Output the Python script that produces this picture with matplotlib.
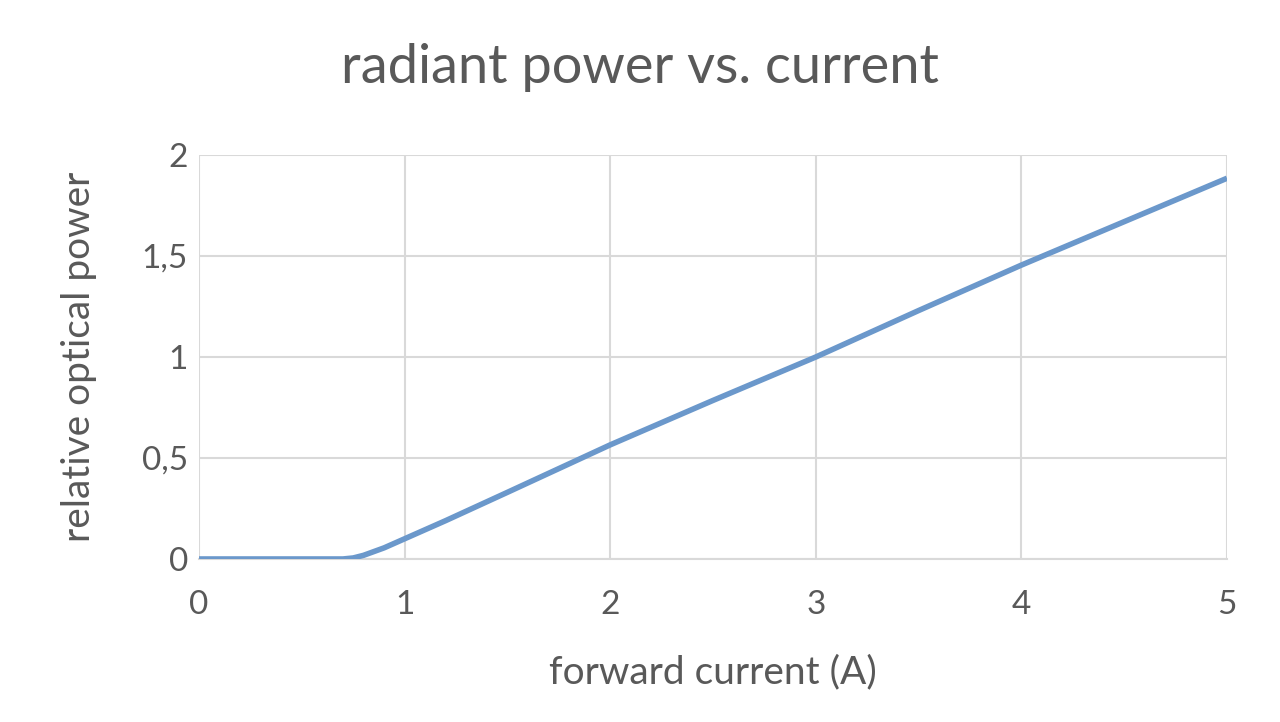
import matplotlib.pyplot as plt

# forward current (A) and relative optical power
current = [0.0, 0.3, 0.6, 0.7, 0.75, 0.8, 0.9, 1.0, 1.2, 1.5, 2.0, 2.5, 3.0, 3.5, 4.0, 4.5, 5.0]
power = [0.0, 0.0, 0.0, 0.0, 0.005, 0.018, 0.055, 0.10, 0.19, 0.33, 0.565, 0.785, 1.0, 1.23, 1.455, 1.67, 1.885]

x_ticks = [0, 1, 2, 3, 4, 5]
y_ticks = [0, 0.5, 1, 1.5, 2]
y_tick_labels = ["0", "0,5", "1", "1,5", "2"]

plt.rcParams["font.family"] = ["Lato", "DejaVu Sans"]
text_color = "#595959"
grid_color = "#D9D9D9"

fig = plt.figure(figsize=(12.8, 7.22), dpi=100)
ax = fig.add_axes([0.1555, 0.2258, 0.8031, 0.5595])

ax.plot(current, power, color="#6B98CB", linewidth=4, solid_capstyle="butt", zorder=3)

ax.set_xlim(0, 5)
ax.set_ylim(0, 2)
ax.set_xticks(x_ticks)
ax.set_yticks(y_ticks)
ax.set_yticklabels(y_tick_labels)
ax.tick_params(length=0, labelsize=24, labelcolor=text_color)
ax.tick_params(axis="x", pad=22)
ax.tick_params(axis="y", pad=8)
ax.grid(True, color=grid_color, linewidth=1.5)
ax.set_axisbelow(True)
for side in ["top", "right", "left"]:
    ax.spines[side].set_visible(False)
ax.spines["bottom"].set_color(grid_color)
ax.spines["bottom"].set_linewidth(1.5)

ax.set_xlabel("forward current (A)", fontsize=28, color=text_color)
ax.set_ylabel("relative optical power", fontsize=28, color=text_color)
ax.xaxis.set_label_coords(0.5, -0.235)
ax.yaxis.set_label_coords(-0.099, 0.5)
fig.text(0.5, 0.906, "radiant power vs. current", fontsize=39, color=text_color,
         ha="center", va="center")

plt.savefig("out.png", dpi=100)
